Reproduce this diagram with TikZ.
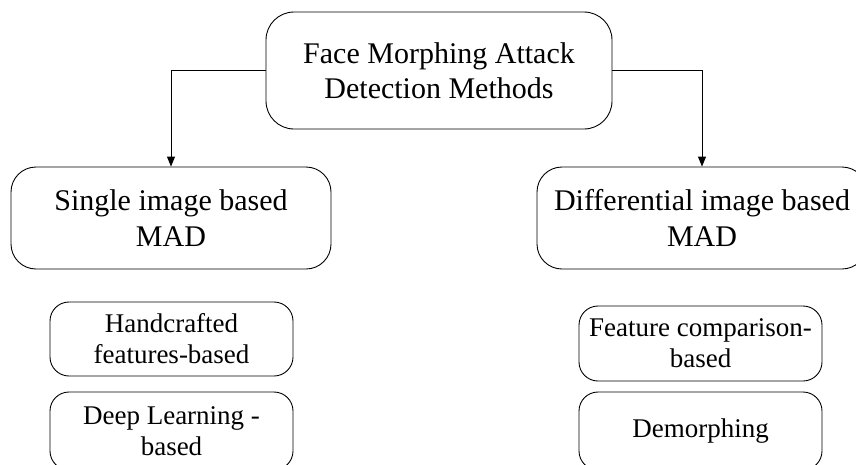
\documentclass[tikz,border=0pt]{standalone}
\usepackage{fontspec}
\setmainfont{Liberation Serif}
\usetikzlibrary{arrows.meta}
\begin{document}
\begin{tikzpicture}[x=1pt,y=-1pt,
  box/.style={draw=black,line width=0.9pt,rectangle,align=center,inner sep=0pt},
  bigbox/.style={box,rounded corners=28pt,font=\fontsize{30}{34.5}\selectfont},
  midbox/.style={box,rounded corners=25pt,font=\fontsize{30}{36}\selectfont},
  smallbox/.style={box,rounded corners=19pt,font=\fontsize{27}{31}\selectfont,
    minimum width=243pt,minimum height=74pt},
  arr/.style={draw=black,line width=0.9pt,-{Triangle[width=8pt,length=10pt]}}]
\useasboundingbox (0,0) rectangle (856,464);

% root
\node[bigbox,minimum width=346pt,minimum height=117pt] (root) at (439,70.5)
  {Face Morphing Attack\\Detection Methods};

% two families of methods
\node[midbox,minimum width=320pt,minimum height=102pt] (single) at (171,218)
  {Single image based\\MAD};
\node[midbox,minimum width=330pt,minimum height=102pt] (diff) at (702,218)
  {Differential image based\\MAD};

% sub-categories
\node[smallbox] (hand) at (171.5,339) {Handcrafted\\features-based};
\node[smallbox,minimum height=78pt] (deep) at (171.5,431) {Deep Learning -\\based};
\node[smallbox,minimum height=75pt] (feat) at (700.5,343.5) {Feature comparison-\\based};
\node[smallbox,minimum height=78pt] (demorph) at (700.5,431) {Demorphing};

% connectors
\draw[arr] (root.west) -| (single.north);
\draw[arr] (root.east) -| (diff.north);
\end{tikzpicture}
\end{document}
